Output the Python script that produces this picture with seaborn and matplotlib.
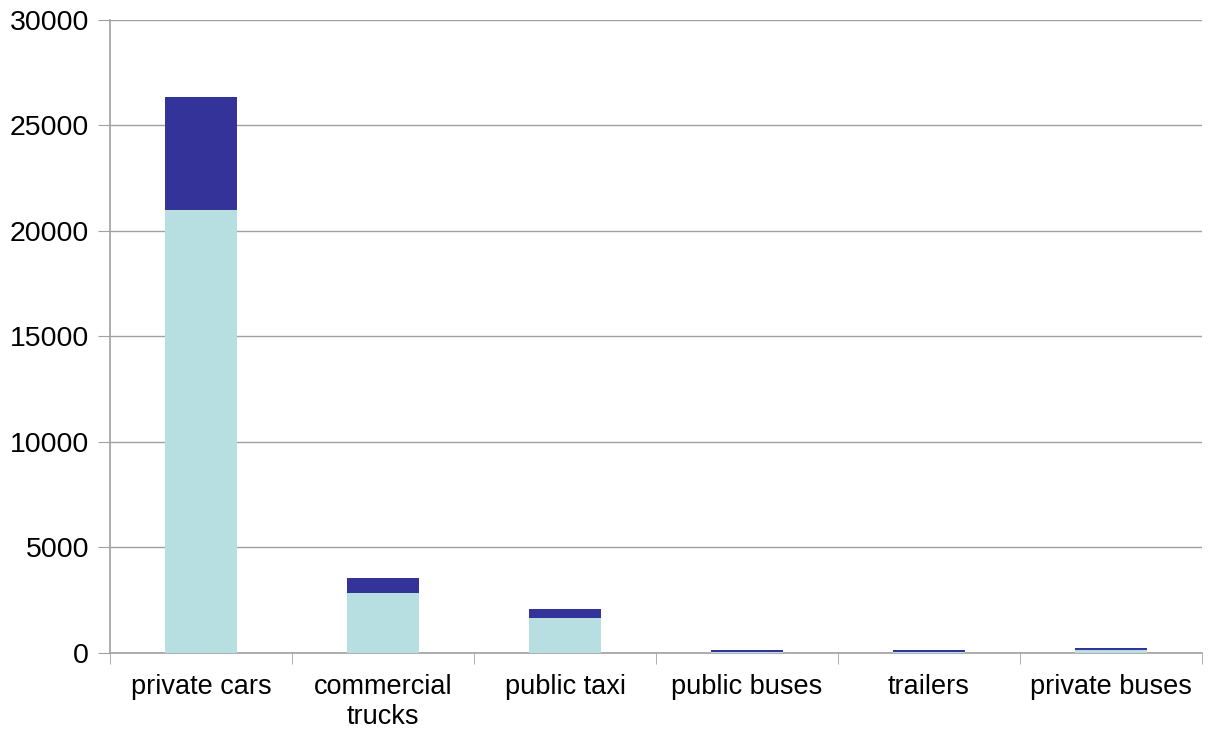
import pandas as pd
import numpy as np
import matplotlib
matplotlib.use('Agg')
import matplotlib.pyplot as plt
import seaborn as sns

# Data
categories = ['private cars', 'commercial\ntrucks', 'public taxi', 'public buses', 'trailers', 'private buses']
lower_values = [21000, 2830, 1670, 60, 50, 130]
upper_values = [5350, 710, 420, 90, 90, 90]

df = pd.DataFrame({'category': categories, 'lower': lower_values, 'upper': upper_values})
df['total'] = df['lower'] + df['upper']

sns.set_style('white')
plt.rcParams['font.family'] = ['Liberation Sans', 'DejaVu Sans']

fig = plt.figure(figsize=(12.17, 7.34), dpi=100)
ax = fig.add_axes([0.0904, 0.1104, 0.8973, 0.8624])

# Stacked bars: draw the total in dark blue, then the lower part on top in light cyan
sns.barplot(data=df, x='category', y='total', color='#333399', width=0.4, saturation=1,
            linewidth=0, ax=ax, zorder=3)
sns.barplot(data=df, x='category', y='lower', color='#B7DFE1', width=0.4, saturation=1,
            linewidth=0, ax=ax, zorder=4)

ax.set_ylim(0, 30000)
ax.set_xlim(-0.5, len(categories) - 0.5)
ax.set_yticks(np.arange(0, 30001, 5000))
ax.yaxis.grid(True, color='#A0A0A0', linewidth=1)
ax.set_axisbelow(True)

for side in ['top', 'right']:
    ax.spines[side].set_visible(False)
for side in ['left', 'bottom']:
    ax.spines[side].set_color('#A0A0A0')
    ax.spines[side].set_linewidth(1.2)

ax.set_xlabel('')
ax.set_ylabel('')
ax.tick_params(axis='y', labelsize=20.5, labelcolor='black', length=9, color='#A0A0A0',
               direction='out', left=True, pad=6)
ax.tick_params(axis='x', which='major', labelsize=19.5, labelcolor='black', length=0, pad=15)
ax.set_xticks(np.arange(-0.5, len(categories), 1), minor=True)
ax.tick_params(axis='x', which='minor', length=8, color='#A0A0A0', direction='out', bottom=True)

plt.savefig('out.png', dpi=100)
